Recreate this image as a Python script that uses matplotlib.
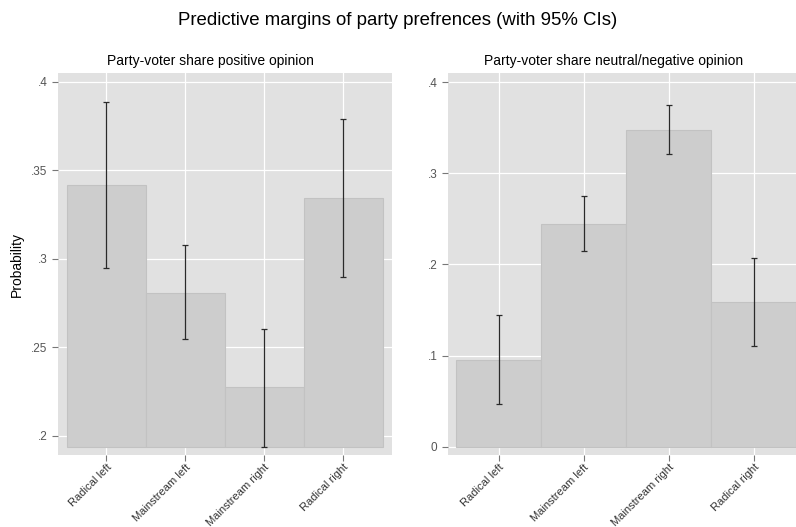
import numpy as np
import matplotlib.pyplot as plt

plt.rcParams['font.family'] = ['Liberation Sans', 'DejaVu Sans']

parties = ['Radical left', 'Mainstream left', 'Mainstream right', 'Radical right']

# Party-voter share positive opinion
pos_margin = [0.3417, 0.2806, 0.2273, 0.3344]
pos_lower = [0.2948, 0.2545, 0.1938, 0.2897]
pos_upper = [0.3885, 0.3077, 0.2602, 0.3790]

# Party-voter share neutral/negative opinion
neg_margin = [0.0956, 0.2444, 0.3480, 0.1590]
neg_lower = [0.0473, 0.2143, 0.3215, 0.1110]
neg_upper = [0.1447, 0.2751, 0.3747, 0.2073]

pos_ticks = [0.2, 0.25, 0.3, 0.35, 0.4]
pos_ticklabels = ['.2', '.25', '.3', '.35', '.4']
neg_ticks = [0, 0.1, 0.2, 0.3, 0.4]
neg_ticklabels = ['0', '.1', '.2', '.3', '.4']

fig = plt.figure(figsize=(7.96, 5.27), dpi=100)
ax1 = fig.add_axes([0.0729, 0.1366, 0.4196, 0.7249])
ax2 = fig.add_axes([0.5628, 0.1366, 0.4372, 0.7249])


def draw_panel(ax, margin, lower, upper, base, ticks, ticklabels, title, title_x, xlim, ylim):
    x = np.arange(1, len(parties) + 1)
    m = np.array(margin)
    err = [m - np.array(lower), np.array(upper) - m]
    ax.set_facecolor('#e1e1e1')
    ax.bar(x, m - base, bottom=base, width=1.0, color='#cdcdcd',
           edgecolor='#c2c2c2', linewidth=0.8, zorder=2)
    ax.errorbar(x, m, yerr=err, fmt='none', ecolor='#2a2a2a',
                elinewidth=0.9, capsize=2.3, capthick=0.9, zorder=3)
    ax.set_xticks(x)
    ax.set_xticklabels(parties, rotation=45, ha='right', rotation_mode='anchor',
                       fontsize=8, color='#333333')
    ax.set_yticks(ticks)
    ax.set_yticklabels(ticklabels, fontsize=8.5, color='#555555')
    ax.tick_params(axis='both', direction='out', length=4, width=0.8, color='#777777')
    ax.tick_params(axis='x', pad=1)
    ax.grid(True, color='white', linewidth=0.9, zorder=1)
    ax.set_axisbelow(True)
    for s in ax.spines.values():
        s.set_visible(False)
    ax.set_xlim(*xlim)
    ax.set_ylim(*ylim)
    ax.text(title_x, 1.012, title, transform=ax.transAxes, ha='center', va='bottom',
            fontsize=10)


draw_panel(ax1, pos_margin, pos_lower, pos_upper, 0.1938, pos_ticks, pos_ticklabels,
           'Party-voter share positive opinion', 0.455, (0.39, 4.62), (0.189, 0.405))
draw_panel(ax2, neg_margin, neg_lower, neg_upper, 0.0, neg_ticks, neg_ticklabels,
           'Party-voter share neutral/negative opinion', 0.476, (0.40, 4.5), (-0.009, 0.41))

ax1.set_ylabel('Probability', fontsize=10, labelpad=5)

fig.suptitle('Predictive margins of party prefrences (with 95% CIs)', fontsize=13.4, y=0.978)

fig.savefig('out.png', dpi=100)
